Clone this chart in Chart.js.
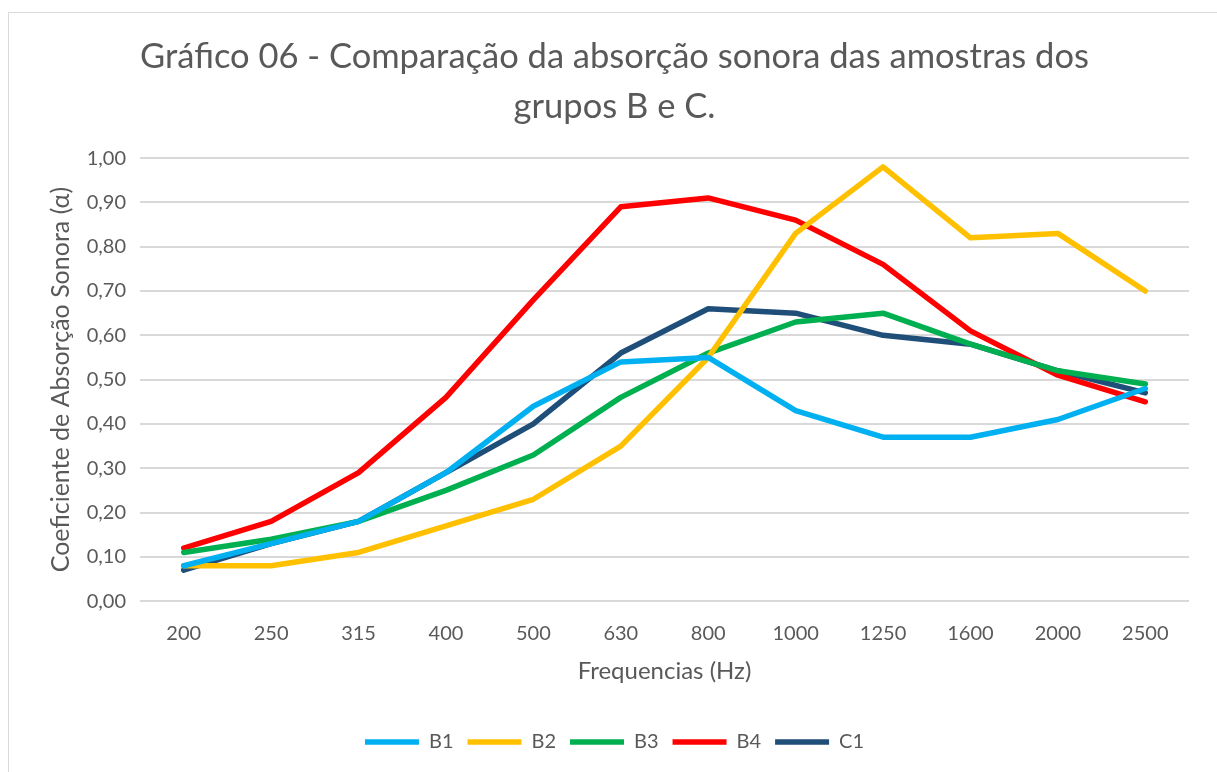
<!DOCTYPE html>
<html>
<head>
<meta charset="utf-8">
<script src="https://cdn.jsdelivr.net/npm/chart.js@4.4.0/dist/chart.umd.min.js"></script>
<style>
  html, body { margin: 0; padding: 0; background: #fff; }
  #frame { position: absolute; left: 8px; top: 12px; width: 1220px; height: 770px; border: 1px solid #d9d9d9; }
  #wrap { position: absolute; left: 0; top: 0; width: 1217px; height: 772px; }
</style>
</head>
<body>
<div id="frame"></div>
<div id="wrap"><canvas id="chart" width="1217" height="772"></canvas></div>
<script>
// frequencias (eixo x)
var frequencias = ['200', '250', '315', '400', '500', '630', '800', '1000', '1250', '1600', '2000', '2500'];

// coeficientes de absorcao
var b1 = [0.08, 0.13, 0.18, 0.29, 0.44, 0.54, 0.55, 0.43, 0.37, 0.37, 0.41, 0.48];
var b2 = [0.08, 0.08, 0.11, 0.17, 0.23, 0.35, 0.55, 0.83, 0.98, 0.82, 0.83, 0.70];
var b3 = [0.11, 0.14, 0.18, 0.25, 0.33, 0.46, 0.56, 0.63, 0.65, 0.58, 0.52, 0.49];
var b4 = [0.12, 0.18, 0.29, 0.46, 0.68, 0.89, 0.91, 0.86, 0.76, 0.61, 0.51, 0.45];
var c1 = [0.07, 0.13, 0.18, 0.29, 0.40, 0.56, 0.66, 0.65, 0.60, 0.58, 0.52, 0.47];

var yTicks = ['0,00', '0,10', '0,20', '0,30', '0,40', '0,50', '0,60', '0,70', '0,80', '0,90', '1,00'];

var FONT = 'Lato, "Open Sans", sans-serif';
var GRAY = '#595959';

function serie(label, data, color) {
    return {
        label: label,
        data: data,
        borderColor: color,
        backgroundColor: color,
        borderWidth: 5.5,
        borderCapStyle: 'round',
        borderJoinStyle: 'round',
        pointRadius: 0,
        pointHoverRadius: 0,
        tension: 0,
        fill: false
    };
}

var ctx = document.getElementById('chart');

var myChart = new Chart(ctx, {
    type: 'line',
    data: {
        labels: frequencias,
        datasets: [
            serie('B1', b1, '#00B0F0'),
            serie('B2', b2, '#FFC000'),
            serie('B3', b3, '#00B050'),
            serie('B4', b4, '#FF0000'),
            serie('C1', c1, '#1F4E79')
        ]
    },
    options: {
        responsive: false,
        animation: false,
        layout: { padding: { left: 40, right: 28, top: 32, bottom: 10 } },
        plugins: {
            title: {
                display: true,
                text: ['Gráfico 06 - Comparação da absorção sonora das amostras dos', 'grupos B e C.'],
                color: GRAY,
                font: { family: FONT, size: 34.5, weight: 'normal', lineHeight: 1.45 },
                padding: { top: 0, bottom: 26 }
            },
            legend: {
                position: 'bottom',
                labels: {
                    usePointStyle: true,
                    pointStyle: 'line',
                    pointStyleWidth: 54,
                    boxHeight: 20,
                    color: GRAY,
                    padding: 14,
                    font: { family: FONT, size: 20 }
                }
            },
            tooltip: { enabled: false }
        },
        scales: {
            x: {
                offset: true,
                grid: { display: false },
                border: { display: false },
                ticks: { color: GRAY, padding: 12, font: { family: FONT, size: 20 } },
                title: {
                    display: true,
                    text: 'Frequencias (Hz)',
                    color: GRAY,
                    font: { family: FONT, size: 24 },
                    padding: { top: 0, bottom: 32 }
                }
            },
            y: {
                min: 0,
                max: 1,
                afterFit: function (scale) { scale.width = 100; },
                grid: { color: '#d9d9d9', lineWidth: 2, drawTicks: false },
                border: { display: false },
                ticks: {
                    stepSize: 0.1,
                    color: GRAY,
                    padding: 14,
                    font: { family: FONT, size: 20 },
                    callback: function (value, i) { return yTicks[i]; }
                },
                title: {
                    display: true,
                    text: 'Coeficiente de Absorção Sonora (α)',
                    color: GRAY,
                    font: { family: FONT, size: 25 },
                    padding: { top: 6, bottom: 0 }
                }
            }
        }
    }
});
</script>
</body>
</html>
